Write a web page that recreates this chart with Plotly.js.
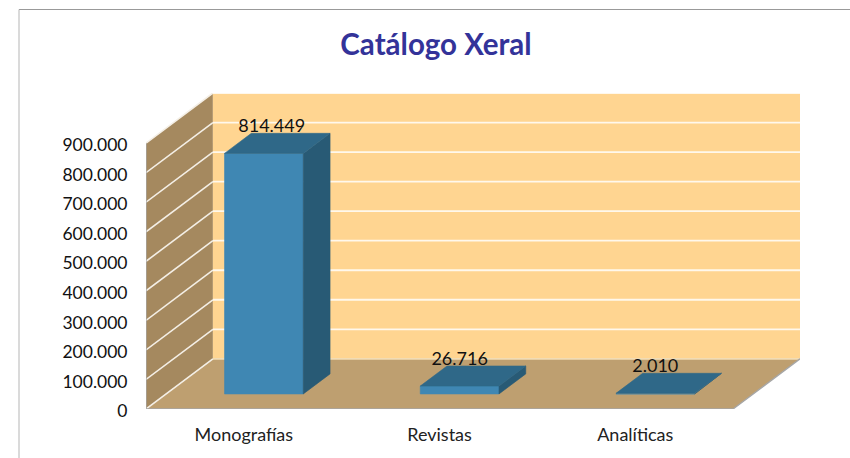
<!DOCTYPE html>
<html>
<head>
<meta charset="utf-8">
<script src="https://cdn.plot.ly/plotly-3.0.1.min.js"></script>
<style>html,body{margin:0;padding:0;background:#fff;overflow:hidden}</style>
</head>
<body>
<div id="chart" style="width:850px;height:458px"></div>
<script>
const categories = ["Monografías", "Revistas", "Analíticas"];
const values = [814449, 26716, 2010];
const valueLabels = ["814.449", "26.716", "2.010"];
const yTicks = [0, 100000, 200000, 300000, 400000, 500000, 600000, 700000, 800000, 900000];
const yTickLabels = ["0", "100.000", "200.000", "300.000", "400.000", "500.000", "600.000", "700.000", "800.000", "900.000"];

// oblique projection: depth z in 0..1 shifts right and up, in axis units
const DEPTH_X = 67 / 196;
const DEPTH_Y = 169800;
const YMAX = 900000;
const N = categories.length;
const BAR_W = 0.4024;
const Z0 = 0.3, Z1 = 0.7;
const L = 146, R = 800, T = 93, B = 409;

const P = (x, y, z) => [x + z * DEPTH_X, y + z * DEPTH_Y];
function poly(pts, fill, edge) {
  const q = pts.concat([pts[0]]).map(p => P(p[0], p[1], p[2]));
  return {type: "scatter", mode: "lines", x: q.map(a => a[0]), y: q.map(a => a[1]),
    fill: "toself", fillcolor: fill, line: {width: edge ? 0.6 : 0, color: edge || fill},
    hoverinfo: "skip", showlegend: false, cliponaxis: false};
}
function path(pts, color, width) {
  const q = pts.map(p => P(p[0], p[1], p[2]));
  return {type: "scatter", mode: "lines", x: q.map(a => a[0]), y: q.map(a => a[1]),
    line: {color: color, width: width}, hoverinfo: "skip", showlegend: false, cliponaxis: false};
}

const traces = [];
traces.push(poly([[0,0,0],[0,YMAX,0],[0,YMAX,1],[0,0,1]], "#a5895f"));
traces.push(poly([[0,0,0],[N,0,0],[N,0,1],[0,0,1]], "#be9f70"));
traces.push(poly([[0,0,1],[N,0,1],[N,YMAX,1],[0,YMAX,1]], "#ffd591"));
yTicks.forEach(v => {
  traces.push(path([[0,v,0],[0,v,1]], "#f4efe6", 1.6));
  traces.push(path([[0,v,1],[N,v,1]], v === 0 ? "#f2dcb4" : "#fff8ec", 1.8));
});
traces.push(path([[0,YMAX,0],[0,0,0],[N,0,0],[N,0,1]], "#a6a6a6", 1.3));

values.forEach((v, i) => {
  const x0 = i + 0.5 - BAR_W / 2, x1 = i + 0.5 + BAR_W / 2;
  traces.push(poly([[x0,0,Z0],[x1,0,Z0],[x1,v,Z0],[x0,v,Z0]], "#3f87b3", "#3f87b3"));
  traces.push(poly([[x1,0,Z0],[x1,0,Z1],[x1,v,Z1],[x1,v,Z0]], "#285a75", "#285a75"));
  traces.push(poly([[x0,v,Z0],[x1,v,Z0],[x1,v,Z1],[x0,v,Z1]], "#2f6888", "#2f6888"));
});

// value labels sit just above the rear edge of each bar top
const labelNudge = [0.04, 0, 0];
const LABEL_RISE = 20000;
const labelPts = values.map((v, i) => P(i + 0.5 + labelNudge[i], v, Z1));
traces.push({type: "scatter", mode: "text", x: labelPts.map(p => p[0] - Z1 * DEPTH_X + Z0 * DEPTH_X),
  y: labelPts.map(p => p[1] + LABEL_RISE), text: valueLabels, textposition: "middle center",
  textfont: {family: "Lato, sans-serif", size: 18, color: "#111"},
  hoverinfo: "skip", showlegend: false, cliponaxis: false});

const W = R - L;
const H = B - T;
const px = x => (x - L) / W;
const py = y => (B - y) / H;
const layout = {
  width: 850, height: 458,
  margin: {l: L, r: 850 - R, t: T, b: 458 - B, pad: 0},
  paper_bgcolor: "#fff", plot_bgcolor: "rgba(0,0,0,0)",
  showlegend: false,
  title: {text: "<b>Catálogo Xeral</b>", x: 436 / 850, xref: "container", xanchor: "center",
    y: 1 - 45 / 458, yref: "container", yanchor: "middle",
    font: {family: "Lato, sans-serif", size: 29.5, color: "#333399"}},
  xaxis: {range: [0, N + DEPTH_X], tickmode: "array", tickvals: categories.map((c, i) => i + 0.5),
    ticktext: categories, ticks: "outside", ticklen: 9, tickcolor: "rgba(0,0,0,0)",
    showgrid: false, zeroline: false, showline: false,
    tickfont: {family: "Lato, sans-serif", size: 18, color: "#222"}},
  yaxis: {range: [0, YMAX + DEPTH_Y], tickmode: "array", tickvals: yTicks, ticktext: yTickLabels,
    ticks: "outside", ticklen: 14, tickcolor: "rgba(0,0,0,0)", ticklabelshift: 2,
    showgrid: false, zeroline: false, showline: false,
    tickfont: {family: "Lato, sans-serif", size: 17.5, color: "#111"}},
  shapes: [
    {type: "line", xref: "paper", yref: "paper", x0: px(19), x1: px(850), y0: py(9.5), y1: py(9.5), line: {color: "#999999", width: 1}},
    {type: "line", xref: "paper", yref: "paper", x0: px(19), x1: px(19), y0: py(9.5), y1: py(458), line: {color: "#b5b5b5", width: 1}}
  ]
};
Plotly.newPlot("chart", traces, layout, {displayModeBar: false, responsive: false});
</script>
</body>
</html>
